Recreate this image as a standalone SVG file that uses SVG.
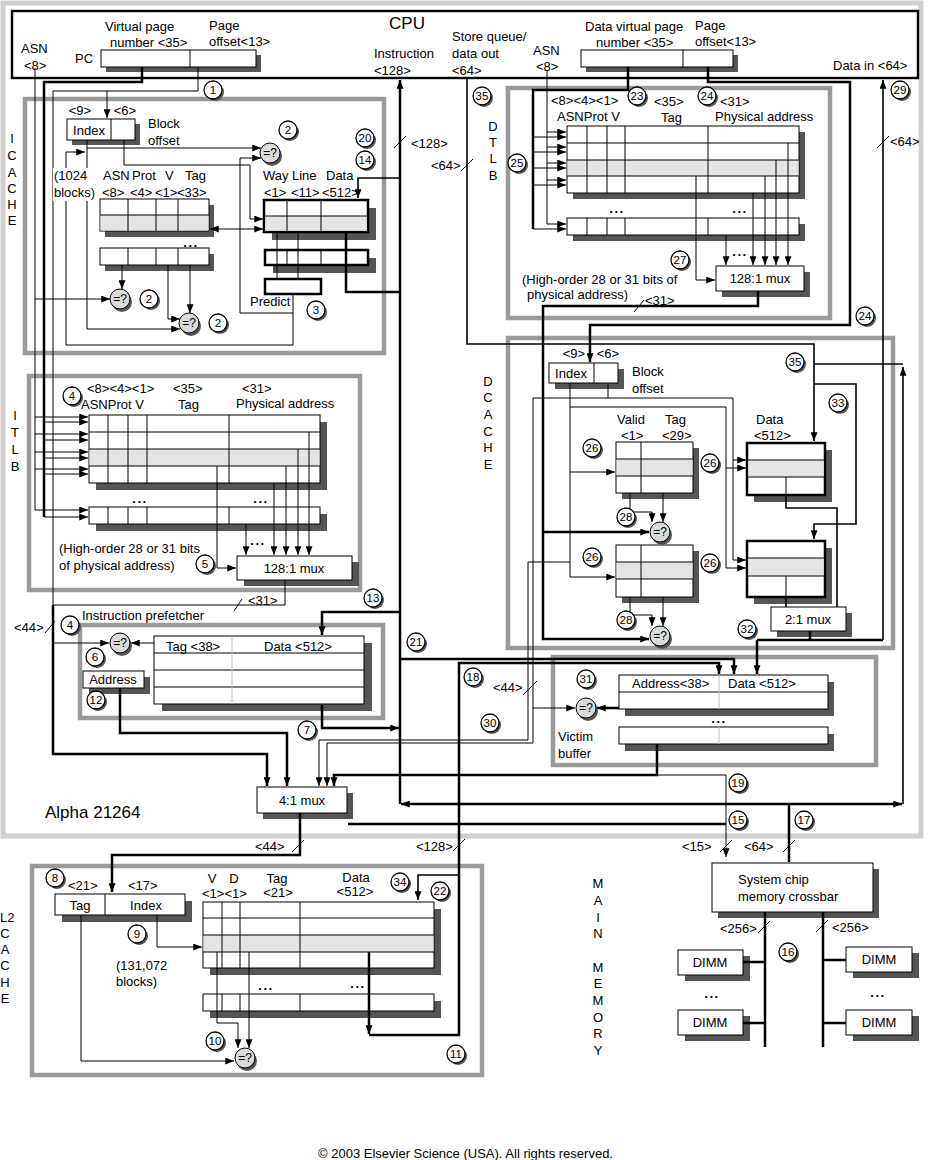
<svg xmlns="http://www.w3.org/2000/svg" width="930" height="1160" viewBox="0 0 930 1160">
<defs>
<style>
text{font-family:"Liberation Sans",Arial,Helvetica,sans-serif;font-size:13px;fill:#000}
.m{text-anchor:middle}
.big{font-size:17px}
.n{font-size:11.5px;text-anchor:middle}
.q{font-size:12px;text-anchor:middle}
.dots{font-size:13px;font-weight:bold;letter-spacing:1.5px;text-anchor:middle}
.l1{stroke:#000;stroke-width:1;fill:none}
.l2{stroke:#000;stroke-width:1.6;fill:none}
.l3{stroke:#000;stroke-width:2.5;fill:none}
.gb{fill:none;stroke:#9a9a9a;stroke-width:4.5}
.sh{fill:#555}
.w{fill:#fff;stroke:#000;stroke-width:1}
.wt{fill:#fff;stroke:#000;stroke-width:2.5}
.g{fill:#e4e4e4}
.nc{fill:#fff;stroke:#000;stroke-width:1.3}
.cmp{fill:#dadada;stroke:#000;stroke-width:1}
.gl{stroke:#bbb;stroke-width:1;fill:none}
</style>
<marker id="a" viewBox="0 0 10 8" refX="10" refY="4" markerWidth="9" markerHeight="7" markerUnits="userSpaceOnUse" orient="auto-start-reverse"><path d="M0,0L10,4L0,8z" fill="#000"/></marker>
</defs>
<rect width="930" height="1160" fill="#fff"/>

<g id="chip">
<rect x="3" y="3" width="918" height="833" fill="none" stroke="#cfcfcf" stroke-width="5"/>
<text x="45" y="818" class="big">Alpha 21264</text>
</g>

<g id="cpu">
<rect x="12" y="11" width="906" height="67" fill="none" stroke="#000" stroke-width="2.4"/>
<text x="407" y="29" class="big m">CPU</text>
<text x="105" y="31">Virtual page</text>
<text x="110" y="47">number &lt;35&gt;</text>
<text x="209" y="30">Page</text>
<text x="209" y="46">offset&lt;13&gt;</text>
<text x="21" y="53">ASN</text>
<text x="24" y="70">&lt;8&gt;</text>
<text x="75" y="63">PC</text>
<rect class="sh" x="106" y="55" width="155" height="17"/>
<rect class="w" x="101" y="50" width="155" height="17"/>
<path class="l1" d="M190,50V67"/>
<text x="374" y="58">Instruction</text>
<text x="374" y="75">&lt;128&gt;</text>
<text x="452" y="41">Store queue/</text>
<text x="452" y="58">data out</text>
<text x="452" y="75">&lt;64&gt;</text>
<text x="533" y="55">ASN</text>
<text x="536" y="71">&lt;8&gt;</text>
<text x="585" y="31">Data virtual page</text>
<text x="596" y="47">number &lt;35&gt;</text>
<text x="695" y="30">Page</text>
<text x="695" y="46">offset&lt;13&gt;</text>
<rect class="sh" x="586" y="55" width="152" height="17"/>
<rect class="w" x="581" y="50" width="152" height="17"/>
<path class="l1" d="M683,50V67"/>
<text x="833" y="70">Data in &lt;64&gt;</text>
</g>

<g id="icache">
<rect class="gb" x="25" y="99" width="359" height="254"/>
<text class="m" x="12" y="143">I</text><text class="m" x="12" y="160">C</text><text class="m" x="12" y="177">A</text><text class="m" x="12" y="193">C</text><text class="m" x="12" y="209">H</text><text class="m" x="12" y="225">E</text>
<text class="m" x="80" y="115">&lt;9&gt;</text><text class="m" x="125" y="115">&lt;6&gt;</text>
<rect class="sh" x="72" y="124" width="68" height="21"/>
<rect class="w" x="67" y="119" width="68" height="21"/>
<path class="l1" d="M111,119V140"/>
<text class="m" x="89" y="135">Index</text>
<text x="148" y="128">Block</text><text x="148" y="145">offset</text>
<text x="103" y="180">ASN</text><text x="132" y="180">Prot</text><text x="165" y="180">V</text><text x="185" y="180">Tag</text>
<text x="102" y="197">&lt;8&gt;</text><text x="130" y="197">&lt;4&gt;</text><text x="155" y="197">&lt;1&gt;</text><text x="177" y="197">&lt;33&gt;</text>
<rect class="sh" x="105" y="205" width="109" height="32"/>
<rect class="w" x="100" y="199" width="109" height="32"/>
<rect class="g" x="100.5" y="215" width="108" height="15.5"/>
<path class="l1" d="M100,215H209M128,199V231M156,199V231M178,199V231"/>
<text class="dots" x="191" y="247">...</text>
<rect class="sh" x="105" y="254" width="109" height="17"/>
<rect class="w" x="100" y="248" width="109" height="17"/>
<path class="l1" d="M128,248V265M156,248V265M178,248V265"/>
<text x="263" y="180">Way</text><text x="292" y="180">Line</text><text x="326" y="180">Data</text>
<text x="264" y="197">&lt;1&gt;</text><text x="291" y="197">&lt;11&gt;</text><text x="322" y="197">&lt;512&gt;</text>
<rect class="sh" x="272" y="208" width="104" height="32"/>
<rect class="wt" x="264" y="200" width="104" height="32"/>
<rect class="g" x="265.5" y="216" width="101" height="14.5"/>
<path class="l1" d="M264,216H368M287,200V232M321,200V232"/>
<rect class="sh" x="273" y="258" width="103" height="15"/>
<rect class="wt" x="265" y="250" width="103" height="15"/>
<path class="l1" d="M287,250V265M321,250V265"/>
<rect class="wt" x="265" y="279" width="56" height="15"/>
<text x="250" y="306">Predict</text>
</g>

<g id="itlb">
<rect class="gb" x="29" y="376" width="331" height="214"/>
<text class="m" x="15" y="420">I</text><text class="m" x="15" y="437">T</text><text class="m" x="15" y="454">L</text><text class="m" x="15" y="471">B</text>
<text x="87" y="393">&lt;8&gt;&lt;4&gt;&lt;1&gt;</text>
<text x="81" y="409">ASNProt V</text>
<text x="173" y="393">&lt;35&gt;</text><text x="178" y="409">Tag</text>
<text x="242" y="393">&lt;31&gt;</text><text x="236" y="408">Physical address</text>
<rect class="sh" x="96" y="422" width="231" height="68"/>
<rect class="w" x="89" y="415" width="231" height="68"/>
<rect class="g" x="89.5" y="449" width="230" height="17"/>
<path class="l1" d="M89,432H320M89,449H320M89,466H320M108,415V483M128,415V483M147,415V483M229,415V483"/>
<text class="dots" x="140" y="503">...</text><text class="dots" x="261" y="503">...</text>
<rect class="sh" x="96" y="514" width="231" height="17"/>
<rect class="w" x="89" y="507" width="231" height="17"/>
<path class="l1" d="M108,507V524M128,507V524M147,507V524M229,507V524"/>
<text class="dots" x="258" y="545">...</text>
<text x="59" y="553">(High-order 28 or 31 bits</text>
<text x="59" y="570">of physical  address)</text>
<rect class="sh" x="244" y="562" width="115" height="24"/>
<rect class="w" x="237" y="556" width="115" height="24"/>
<text class="m" x="294" y="573">128:1 mux</text>
</g>

<g id="prefetcher">
<text x="82" y="620">Instruction prefetcher</text>
<rect class="gb" x="80" y="625" width="303" height="93"/>
<rect class="sh" x="89" y="677" width="61" height="17"/>
<rect class="w" x="83" y="671" width="61" height="17"/>
<text class="m" x="113" y="684">Address</text>
<rect class="sh" x="162" y="643" width="210" height="68"/>
<rect class="w" x="154" y="636" width="210" height="68"/>
<path class="l1" d="M154,653H364M154,670H364M154,687H364"/>
<path class="gl" d="M232,636V704"/>
<text x="166" y="651">Tag &lt;38&gt;</text><text x="264" y="651">Data &lt;512&gt;</text>
</g>

<g id="mux41">
<rect class="sh" x="263" y="793" width="90" height="26"/>
<rect class="w" x="257" y="787" width="90" height="26"/>
<text class="m" x="302" y="805">4:1 mux</text>
</g>

<g id="dtlb">
<rect class="gb" x="508" y="88" width="322" height="230"/>
<text class="m" x="493" y="131">D</text><text class="m" x="493" y="147">T</text><text class="m" x="493" y="163">L</text><text class="m" x="493" y="180">B</text>
<text x="551" y="105">&lt;8&gt;&lt;4&gt;&lt;1&gt;</text>
<text x="557" y="121">ASNProt V</text>
<text x="654" y="106">&lt;35&gt;</text><text x="661" y="122">Tag</text>
<text x="720" y="106">&lt;31&gt;</text><text x="715" y="121">Physical address</text>
<rect class="sh" x="573" y="132" width="232" height="67"/>
<rect class="w" x="567" y="126" width="232" height="67"/>
<rect class="g" x="567.5" y="160" width="231" height="16"/>
<path class="l1" d="M567,143H799M567,160H799M567,176H799M587,126V193M607,126V193M625,126V193M708,126V193"/>
<text class="dots" x="617" y="213">...</text><text class="dots" x="740" y="213">...</text>
<rect class="sh" x="573" y="224" width="232" height="17"/>
<rect class="w" x="567" y="218" width="232" height="17"/>
<path class="l1" d="M587,218V235M607,218V235M625,218V235M708,218V235"/>
<text class="dots" x="740" y="256">...</text>
<text x="522" y="284">(High-order 28 or 31 bits of</text>
<text x="527" y="299">physical  address)</text>
<rect class="sh" x="722" y="272" width="88" height="25"/>
<rect class="w" x="716" y="266" width="88" height="25"/>
<text class="m" x="760" y="283">128:1 mux</text>
</g>

<g id="dcache">
<rect class="gb" x="508" y="338" width="385" height="310"/>
<text class="m" x="488" y="386">D</text><text class="m" x="488" y="402">C</text><text class="m" x="488" y="419">A</text><text class="m" x="488" y="436">C</text><text class="m" x="488" y="452">H</text><text class="m" x="488" y="469">E</text>
<text class="m" x="574" y="358">&lt;9&gt;</text><text class="m" x="608" y="358">&lt;6&gt;</text>
<rect class="sh" x="555" y="369" width="69" height="20"/>
<rect class="w" x="549" y="363" width="69" height="20"/>
<path class="l1" d="M594,363V383"/>
<text class="m" x="571" y="378">Index</text>
<text x="632" y="376">Block</text><text x="632" y="393">offset</text>
<text x="617" y="424">Valid</text><text x="621" y="440">&lt;1&gt;</text>
<text x="665" y="424">Tag</text><text x="662" y="440">&lt;29&gt;</text>
<rect class="sh" x="622" y="448" width="77" height="51"/>
<rect class="w" x="616" y="442" width="77" height="51"/>
<rect class="g" x="616.5" y="459" width="76" height="17"/>
<path class="l1" d="M616,459H693M616,476H693M641,442V493"/>
<text x="756" y="424">Data</text><text x="754" y="440">&lt;512&gt;</text>
<rect class="sh" x="754" y="450" width="78" height="52"/>
<rect class="wt" x="747" y="443" width="78" height="52"/>
<rect class="g" x="748.5" y="460" width="75" height="17"/>
<path class="l1" d="M747,460H825M747,477H825M786,477V495"/>
<rect class="sh" x="622" y="551" width="77" height="52"/>
<rect class="w" x="616" y="545" width="77" height="52"/>
<rect class="g" x="616.5" y="562" width="76" height="17"/>
<path class="l1" d="M616,562H693M616,579H693M641,545V597"/>
<rect class="sh" x="754" y="548" width="78" height="56"/>
<rect class="wt" x="747" y="541" width="78" height="56"/>
<rect class="g" x="748.5" y="558" width="75" height="18"/>
<path class="l1" d="M747,558H825M747,576H825M786,576V597"/>
<rect class="sh" x="777" y="613" width="75" height="24"/>
<rect class="w" x="771" y="607" width="75" height="24"/>
<text class="m" x="808" y="624">2:1 mux</text>
</g>

<g id="victim">
<rect class="gb" x="553" y="657" width="323" height="108"/>
<text x="558" y="741">Victim</text><text x="558" y="758">buffer</text>
<rect class="sh" x="625" y="682" width="209" height="34"/>
<rect class="w" x="619" y="675" width="209" height="34"/>
<path class="l1" d="M619,692H828"/>
<path class="gl" d="M719,675V709"/>
<text x="632" y="688">Address&lt;38&gt;</text><text x="728" y="688">Data &lt;512&gt;</text>
<text class="dots" x="719" y="723">...</text>
<rect class="sh" x="625" y="734" width="209" height="17"/>
<rect class="w" x="619" y="727" width="209" height="17"/>
<path class="gl" d="M719,727V744"/>
</g>

<g id="l2cache">
<rect class="gb" x="32" y="866" width="450" height="209"/>
<text x="0" y="922">L2</text><text class="m" x="5" y="938">C</text><text class="m" x="5" y="954">A</text><text class="m" x="5" y="970">C</text><text class="m" x="5" y="987">H</text><text class="m" x="5" y="1003">E</text>
<text x="68" y="890">&lt;21&gt;</text><text x="128" y="890">&lt;17&gt;</text>
<rect class="sh" x="62" y="901" width="130" height="21"/>
<rect class="w" x="55" y="894" width="130" height="21"/>
<path class="l1" d="M105,894V915"/>
<text class="m" x="80" y="910">Tag</text><text class="m" x="146" y="910">Index</text>
<text x="116" y="970">(131,072</text><text x="116" y="986">blocks)</text>
<text class="m" x="212" y="883">V</text><text class="m" x="234" y="883">D</text><text x="202" y="898">&lt;1&gt;&lt;1&gt;</text>
<text class="m" x="277" y="883">Tag</text><text class="m" x="278" y="897">&lt;21&gt;</text>
<text class="m" x="356" y="882">Data</text><text class="m" x="355" y="896">&lt;512&gt;</text>
<rect class="sh" x="210" y="909" width="231" height="66"/>
<rect class="w" x="203" y="902" width="231" height="66"/>
<rect class="g" x="203.5" y="935" width="230" height="17"/>
<path class="l1" d="M203,918H434M203,935H434M203,952H434M222,902V968M240,902V968M300,902V968"/>
<text class="dots" x="266" y="990">...</text><text class="dots" x="358" y="988">...</text>
<rect class="sh" x="210" y="1001" width="231" height="17"/>
<rect class="w" x="203" y="994" width="231" height="17"/>
<path class="l1" d="M222,994V1011M240,994V1011M300,994V1011"/>
</g>

<g id="memory">
<text class="m" x="598" y="888">M</text><text class="m" x="598" y="905">A</text><text class="m" x="598" y="922">I</text><text class="m" x="598" y="938">N</text>
<text class="m" x="598" y="972">M</text><text class="m" x="598" y="988">E</text><text class="m" x="598" y="1005">M</text><text class="m" x="598" y="1022">O</text><text class="m" x="598" y="1038">R</text><text class="m" x="598" y="1055">Y</text>
<rect class="sh" x="718" y="869" width="161" height="49"/>
<rect class="w" x="712" y="863" width="161" height="49"/>
<text x="738" y="884">System chip</text><text x="738" y="901">memory crossbar</text>
<g id="dimm1"><rect class="sh" x="685" y="956" width="65" height="25"/><rect class="w" x="678" y="950" width="65" height="25"/><text class="m" x="710" y="967">DIMM</text></g>
<g id="dimm2"><rect class="sh" x="685" y="1016" width="65" height="25"/><rect class="w" x="678" y="1010" width="65" height="25"/><text class="m" x="710" y="1027">DIMM</text></g>
<g id="dimm3"><rect class="sh" x="853" y="953" width="66" height="25"/><rect class="w" x="846" y="947" width="66" height="25"/><text class="m" x="879" y="964">DIMM</text></g>
<g id="dimm4"><rect class="sh" x="853" y="1016" width="66" height="25"/><rect class="w" x="846" y="1010" width="66" height="25"/><text class="m" x="879" y="1027">DIMM</text></g>
<text class="dots" x="712" y="998">...</text><text class="dots" x="878" y="997">...</text>
</g>

<g id="connectors">
<path class="l1" d="M35,68V510H88" marker-end="url(#a)"/>
<path class="l1" d="M35,299H110" marker-end="url(#a)"/>
<path class="l1" d="M35,417H88" marker-end="url(#a)"/>
<path class="l1" d="M35,434H88" marker-end="url(#a)"/>
<path class="l1" d="M35,452H88" marker-end="url(#a)"/>
<path class="l1" d="M35,469H88" marker-end="url(#a)"/>
<path class="l3" d="M142,67V82H44V517"/>
<path class="l1" d="M44,517H88" marker-end="url(#a)"/>
<path class="l1" d="M44,422H88" marker-end="url(#a)"/>
<path class="l1" d="M44,440H88" marker-end="url(#a)"/>
<path class="l1" d="M44,458H88" marker-end="url(#a)"/>
<path class="l1" d="M44,474H88" marker-end="url(#a)"/>
<path class="l1" d="M198,67V91H53V605"/>
<path class="l1" d="M107,91V118" marker-end="url(#a)"/>
<path class="l3" d="M53,605V754H267V786" marker-end="url(#a)"/>
<path class="l1" d="M53,643H109" marker-end="url(#a)"/>
<path class="l1" d="M285,580V605H53"/>
<path class="l1" d="M87,140V329H180" marker-end="url(#a)"/>
<path class="l1" d="M87,148H261" marker-end="url(#a)"/>
<path class="l1" d="M124,140V165H250V219H263" marker-end="url(#a)"/>
<path class="l1" d="M210,229H263" marker-start="url(#a)" marker-end="url(#a)"/>
<path class="l1" d="M293,294V345H66V152H85" marker-end="url(#a)"/>
<path class="l1" d="M293,313H240V158H261" marker-end="url(#a)"/>
<path class="l1" d="M122,265V289" marker-end="url(#a)"/>
<path class="l1" d="M190,265V313" marker-end="url(#a)"/>
<path class="l1" d="M168,265V319H180" marker-end="url(#a)"/>
<path class="l1" d="M277,232V279M298,232V279"/>
<path class="l3" d="M346,232V292H400"/>
<path class="l2" d="M400,178H358V198" marker-end="url(#a)"/>
<path class="l3" d="M400,804V80" marker-end="url(#a)"/>
<path class="l1" d="M394,148L406,136"/>
<text x="411" y="148">&lt;128&gt;</text>
<path class="l1" d="M217,466V568H236" marker-end="url(#a)"/>
<path class="l1" d="M274,483V555" marker-end="url(#a)"/>
<path class="l1" d="M286,466V555" marker-end="url(#a)"/>
<path class="l1" d="M298,449V555" marker-end="url(#a)"/>
<path class="l1" d="M309,432V555" marker-end="url(#a)"/>
<path class="l1" d="M246,524V555" marker-end="url(#a)"/>
<path class="l1" d="M234,611L242,599"/>
<text x="248" y="605">&lt;31&gt;</text>
<path class="l1" d="M154,643H131" marker-end="url(#a)"/>
<path class="l3" d="M120,688V733H287V786" marker-end="url(#a)"/>
<path class="l3" d="M322,705V728H399" marker-end="url(#a)"/>
<path class="l3" d="M400,612H322V635" marker-end="url(#a)"/>
<path class="l1" d="M45,633L55,621"/>
<text x="14" y="632">&lt;44&gt;</text>
<path class="l3" d="M300,813V855H112V892" marker-end="url(#a)"/>
<path class="l1" d="M292,852L304,840"/>
<text x="255" y="851">&lt;44&gt;</text>
<path class="l1" d="M547,70V224H566" marker-end="url(#a)"/>
<path class="l1" d="M547,132H566" marker-end="url(#a)"/>
<path class="l1" d="M547,147H566" marker-end="url(#a)"/>
<path class="l1" d="M547,163H566" marker-end="url(#a)"/>
<path class="l1" d="M547,180H566" marker-end="url(#a)"/>
<path class="l3" d="M628,67V90H533V229"/>
<path class="l1" d="M533,229H566" marker-end="url(#a)"/>
<path class="l1" d="M533,137H566" marker-end="url(#a)"/>
<path class="l1" d="M533,152H566" marker-end="url(#a)"/>
<path class="l1" d="M533,168H566" marker-end="url(#a)"/>
<path class="l1" d="M533,185H566" marker-end="url(#a)"/>
<path class="l3" d="M708,67V82H850V325H590V362" marker-end="url(#a)"/>
<path class="l1" d="M696,176V280H715" marker-end="url(#a)"/>
<path class="l1" d="M753,193V265" marker-end="url(#a)"/>
<path class="l1" d="M765,176V265" marker-end="url(#a)"/>
<path class="l1" d="M776,160V265" marker-end="url(#a)"/>
<path class="l1" d="M788,143V265" marker-end="url(#a)"/>
<path class="l1" d="M726,235V265" marker-end="url(#a)"/>
<path class="l3" d="M758,291V306H543V639H649" marker-end="url(#a)"/>
<path class="l3" d="M543,532H649" marker-end="url(#a)"/>
<path class="l1" d="M634,312L644,300"/>
<text x="645" y="305">&lt;31&gt;</text>
<path class="l2" d="M467,78V344H814V441" marker-end="url(#a)"/>
<path class="l1" d="M461,171L473,159"/>
<text x="431" y="170">&lt;64&gt;</text>
<path class="l2" d="M814,364H903"/>
<path class="l2" d="M814,384H856V524H814V539" marker-end="url(#a)"/>
<path class="l2" d="M883,640V80" marker-end="url(#a)"/>
<path class="l1" d="M877,148L889,136"/>
<text x="890" y="146">&lt;64&gt;</text>
<path class="l1" d="M570,383V577H615" marker-end="url(#a)"/>
<path class="l1" d="M570,472H615" marker-end="url(#a)"/>
<path class="l1" d="M570,407H726V568H746" marker-end="url(#a)"/>
<path class="l1" d="M726,468H746" marker-end="url(#a)"/>
<path class="l1" d="M608,383V398"/>
<path class="l1" d="M533,398H733V560H746" marker-end="url(#a)"/>
<path class="l1" d="M733,460H746" marker-end="url(#a)"/>
<path class="l1" d="M533,398V743H327V786" marker-end="url(#a)"/>
<path class="l1" d="M533,708H575" marker-end="url(#a)"/>
<path class="l1" d="M570,562H528V740H319V786" marker-end="url(#a)"/>
<path class="l1" d="M523,695L537,681"/>
<text x="493" y="692">&lt;44&gt;</text>
<path class="l1" d="M630,493V512H652V522" marker-end="url(#a)"/>
<path class="l1" d="M663,493V522" marker-end="url(#a)"/>
<path class="l1" d="M630,597V615H652V626" marker-end="url(#a)"/>
<path class="l1" d="M663,597V626" marker-end="url(#a)"/>
<path class="l2" d="M786,495V508H837V607"/>
<path class="l2" d="M786,597V607"/>
<path class="l3" d="M810,631V640H883M757,640H810"/>
<path class="l3" d="M757,640V674" marker-end="url(#a)"/>
<path class="l3" d="M619,708H597" marker-end="url(#a)"/>
<path class="l3" d="M400,659H734V674" marker-end="url(#a)"/>
<path class="l3" d="M369,952V1034" marker-end="url(#a)"/>
<path class="l3" d="M369,1035H459V663H719V674" marker-end="url(#a)"/>
<path class="l2" d="M459,875H418V900" marker-end="url(#a)"/>
<path class="l1" d="M453,851L465,839"/>
<text x="416" y="851">&lt;128&gt;</text>
<path class="l3" d="M657,744V775H334V786" marker-end="url(#a)"/>
<path class="l1" d="M657,775H726V857" marker-end="url(#a)"/>
<path class="l3" d="M348,824H726"/>
<path class="l1" d="M720,852L732,840"/>
<text x="682" y="851">&lt;15&gt;</text>
<path class="l3" d="M789,862V804"/>
<path class="l3" d="M789,804H401" marker-end="url(#a)"/>
<path class="l3" d="M789,804H902" marker-end="url(#a)"/>
<path class="l2" d="M903,804V367" marker-end="url(#a)"/>
<path class="l1" d="M783,852L795,840"/>
<text x="744" y="851">&lt;64&gt;</text>
<path class="l3" d="M765,912V1047M823,912V1047M743,962H765M743,1023H765M823,960H846M823,1023H846"/>
<path class="l1" d="M758,933L770,921"/>
<text x="720" y="933">&lt;256&gt;</text>
<path class="l1" d="M816,932L828,920"/>
<text x="832" y="932">&lt;256&gt;</text>
<path class="l1" d="M157,915V947H202" marker-end="url(#a)"/>
<path class="l1" d="M81,915V1061H234" marker-end="url(#a)"/>
<path class="l1" d="M217,952V1023H238V1048" marker-end="url(#a)"/>
<path class="l1" d="M249,952V1048" marker-end="url(#a)"/>
</g>

<g id="icache-blocks-label">
<rect x="53" y="168" width="45" height="33" fill="#fff"/>
<text x="54" y="180">(1024</text><text x="54" y="197">blocks)</text>
</g>

<g id="comparators">
<g><circle class="sh" cx="272" cy="156" r="10"/><circle class="cmp" cx="270" cy="153" r="10"/><text class="q" x="270" y="157">=?</text></g>
<g><circle class="sh" cx="122" cy="302" r="10"/><circle class="cmp" cx="120" cy="299" r="10"/><text class="q" x="120" y="303">=?</text></g>
<g><circle class="sh" cx="191" cy="326" r="10"/><circle class="cmp" cx="189" cy="323" r="10"/><text class="q" x="189" y="327">=?</text></g>
<g><circle class="sh" cx="122" cy="646" r="10"/><circle class="cmp" cx="120" cy="643" r="10"/><text class="q" x="120" y="647">=?</text></g>
<g><circle class="sh" cx="662" cy="535" r="10"/><circle class="cmp" cx="660" cy="532" r="10"/><text class="q" x="660" y="536">=?</text></g>
<g><circle class="sh" cx="662" cy="639" r="10"/><circle class="cmp" cx="660" cy="636" r="10"/><text class="q" x="660" y="640">=?</text></g>
<g><circle class="sh" cx="588" cy="711" r="10"/><circle class="cmp" cx="586" cy="708" r="10"/><text class="q" x="586" y="712">=?</text></g>
<g><circle class="sh" cx="247" cy="1061" r="10"/><circle class="cmp" cx="245" cy="1058" r="10"/><text class="q" x="245" y="1062">=?</text></g>
</g>

<g id="step-numbers">
<g><circle class="sh" cx="215" cy="92" r="9"/><circle class="nc" cx="213" cy="90" r="9"/><text class="n" x="213" y="94">1</text></g>
<g><circle class="sh" cx="290" cy="132" r="9"/><circle class="nc" cx="288" cy="130" r="9"/><text class="n" x="288" y="134">2</text></g>
<g><circle class="sh" cx="151" cy="301" r="9"/><circle class="nc" cx="149" cy="299" r="9"/><text class="n" x="149" y="303">2</text></g>
<g><circle class="sh" cx="220" cy="325" r="9"/><circle class="nc" cx="218" cy="323" r="9"/><text class="n" x="218" y="327">2</text></g>
<g><circle class="sh" cx="318" cy="312" r="9"/><circle class="nc" cx="316" cy="310" r="9"/><text class="n" x="316" y="314">3</text></g>
<g><circle class="sh" cx="74" cy="398" r="9"/><circle class="nc" cx="72" cy="396" r="9"/><text class="n" x="72" y="400">4</text></g>
<g><circle class="sh" cx="207" cy="566" r="9"/><circle class="nc" cx="205" cy="564" r="9"/><text class="n" x="205" y="568">5</text></g>
<g><circle class="sh" cx="72" cy="627" r="9"/><circle class="nc" cx="70" cy="625" r="9"/><text class="n" x="70" y="629">4</text></g>
<g><circle class="sh" cx="97" cy="659" r="9"/><circle class="nc" cx="95" cy="657" r="9"/><text class="n" x="95" y="661">6</text></g>
<g><circle class="sh" cx="98" cy="702" r="9"/><circle class="nc" cx="96" cy="700" r="9"/><text class="n" x="96" y="704">12</text></g>
<g><circle class="sh" cx="309" cy="732" r="9"/><circle class="nc" cx="307" cy="730" r="9"/><text class="n" x="307" y="734">7</text></g>
<g><circle class="sh" cx="375" cy="600" r="9"/><circle class="nc" cx="373" cy="598" r="9"/><text class="n" x="373" y="602">13</text></g>
<g><circle class="sh" cx="418" cy="644" r="9"/><circle class="nc" cx="416" cy="642" r="9"/><text class="n" x="416" y="646">21</text></g>
<g><circle class="sh" cx="475" cy="679" r="9"/><circle class="nc" cx="473" cy="677" r="9"/><text class="n" x="473" y="681">18</text></g>
<g><circle class="sh" cx="492" cy="725" r="9"/><circle class="nc" cx="490" cy="723" r="9"/><text class="n" x="490" y="727">30</text></g>
<g><circle class="sh" cx="588" cy="681" r="9"/><circle class="nc" cx="586" cy="679" r="9"/><text class="n" x="586" y="683">31</text></g>
<g><circle class="sh" cx="367" cy="140" r="9"/><circle class="nc" cx="365" cy="138" r="9"/><text class="n" x="365" y="142">20</text></g>
<g><circle class="sh" cx="367" cy="162" r="9"/><circle class="nc" cx="365" cy="160" r="9"/><text class="n" x="365" y="164">14</text></g>
<g><circle class="sh" cx="484" cy="98" r="9"/><circle class="nc" cx="482" cy="96" r="9"/><text class="n" x="482" y="100">35</text></g>
<g><circle class="sh" cx="639" cy="98" r="9"/><circle class="nc" cx="637" cy="96" r="9"/><text class="n" x="637" y="100">23</text></g>
<g><circle class="sh" cx="709" cy="98" r="9"/><circle class="nc" cx="707" cy="96" r="9"/><text class="n" x="707" y="100">24</text></g>
<g><circle class="sh" cx="519" cy="165" r="9"/><circle class="nc" cx="517" cy="163" r="9"/><text class="n" x="517" y="167">25</text></g>
<g><circle class="sh" cx="682" cy="262" r="9"/><circle class="nc" cx="680" cy="260" r="9"/><text class="n" x="680" y="264">27</text></g>
<g><circle class="sh" cx="902" cy="92" r="9"/><circle class="nc" cx="900" cy="90" r="9"/><text class="n" x="900" y="94">29</text></g>
<g><circle class="sh" cx="867" cy="318" r="9"/><circle class="nc" cx="865" cy="316" r="9"/><text class="n" x="865" y="320">24</text></g>
<g><circle class="sh" cx="797" cy="364" r="9"/><circle class="nc" cx="795" cy="362" r="9"/><text class="n" x="795" y="366">35</text></g>
<g><circle class="sh" cx="840" cy="405" r="9"/><circle class="nc" cx="838" cy="403" r="9"/><text class="n" x="838" y="407">33</text></g>
<g><circle class="sh" cx="594" cy="450" r="9"/><circle class="nc" cx="592" cy="448" r="9"/><text class="n" x="592" y="452">26</text></g>
<g><circle class="sh" cx="712" cy="465" r="9"/><circle class="nc" cx="710" cy="463" r="9"/><text class="n" x="710" y="467">26</text></g>
<g><circle class="sh" cx="594" cy="559" r="9"/><circle class="nc" cx="592" cy="557" r="9"/><text class="n" x="592" y="561">26</text></g>
<g><circle class="sh" cx="712" cy="565" r="9"/><circle class="nc" cx="710" cy="563" r="9"/><text class="n" x="710" y="567">26</text></g>
<g><circle class="sh" cx="628" cy="519" r="9"/><circle class="nc" cx="626" cy="517" r="9"/><text class="n" x="626" y="521">28</text></g>
<g><circle class="sh" cx="628" cy="622" r="9"/><circle class="nc" cx="626" cy="620" r="9"/><text class="n" x="626" y="624">28</text></g>
<g><circle class="sh" cx="749" cy="631" r="9"/><circle class="nc" cx="747" cy="629" r="9"/><text class="n" x="747" y="633">32</text></g>
<g><circle class="sh" cx="740" cy="785" r="9"/><circle class="nc" cx="738" cy="783" r="9"/><text class="n" x="738" y="787">19</text></g>
<g><circle class="sh" cx="740" cy="822" r="9"/><circle class="nc" cx="738" cy="820" r="9"/><text class="n" x="738" y="824">15</text></g>
<g><circle class="sh" cx="806" cy="822" r="9"/><circle class="nc" cx="804" cy="820" r="9"/><text class="n" x="804" y="824">17</text></g>
<g><circle class="sh" cx="57" cy="880" r="9"/><circle class="nc" cx="55" cy="878" r="9"/><text class="n" x="55" y="882">8</text></g>
<g><circle class="sh" cx="139" cy="936" r="9"/><circle class="nc" cx="137" cy="934" r="9"/><text class="n" x="137" y="938">9</text></g>
<g><circle class="sh" cx="217" cy="1043" r="9"/><circle class="nc" cx="215" cy="1041" r="9"/><text class="n" x="215" y="1045">10</text></g>
<g><circle class="sh" cx="402" cy="884" r="9"/><circle class="nc" cx="400" cy="882" r="9"/><text class="n" x="400" y="886">34</text></g>
<g><circle class="sh" cx="442" cy="893" r="9"/><circle class="nc" cx="440" cy="891" r="9"/><text class="n" x="440" y="895">22</text></g>
<g><circle class="sh" cx="458" cy="1056" r="9"/><circle class="nc" cx="456" cy="1054" r="9"/><text class="n" x="456" y="1058">11</text></g>
<g><circle class="sh" cx="790" cy="954" r="9"/><circle class="nc" cx="788" cy="952" r="9"/><text class="n" x="788" y="956">16</text></g>
</g>

<text x="318" y="1158">© 2003 Elsevier Science (USA). All rights reserved.</text>
</svg>
